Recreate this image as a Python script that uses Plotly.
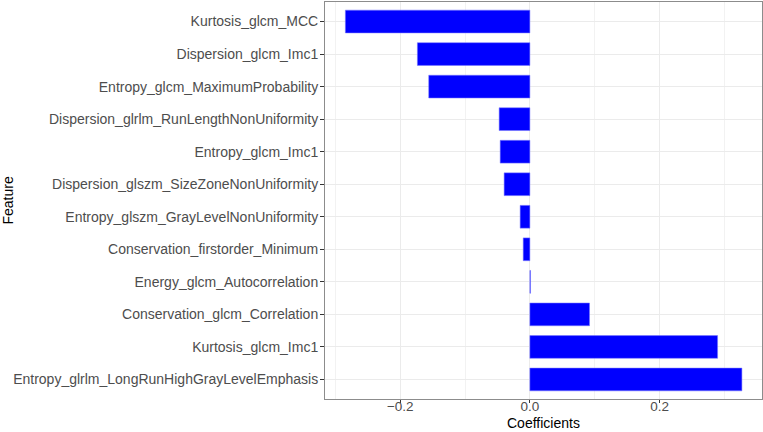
import plotly.graph_objects as go

features = [
    "Kurtosis_glcm_MCC",
    "Dispersion_glcm_Imc1",
    "Entropy_glcm_MaximumProbability",
    "Dispersion_glrlm_RunLengthNonUniformity",
    "Entropy_glcm_Imc1",
    "Dispersion_glszm_SizeZoneNonUniformity",
    "Entropy_glszm_GrayLevelNonUniformity",
    "Conservation_firstorder_Minimum",
    "Energy_glcm_Autocorrelation",
    "Conservation_glcm_Correlation",
    "Kurtosis_glcm_Imc1",
    "Entropy_glrlm_LongRunHighGrayLevelEmphasis",
]
coefficients = [
    -0.2846, -0.1735, -0.156, -0.0474, -0.0458, -0.0397,
    -0.015, -0.0103, 0.001, 0.092, 0.2895, 0.327,
]
x_ticks = [-0.2, 0.0, 0.2]
x_tick_labels = ["−0.2", "0.0", "0.2"]
x_minor = [-0.3, -0.1, 0.1, 0.3]

fig = go.Figure()
fig.add_trace(go.Bar(
    x=coefficients,
    y=features,
    orientation="h",
    width=0.7,
    marker=dict(color="#0000ff", line=dict(color="rgba(120,120,255,0.9)", width=0.6)),
))

font_family = "Liberation Sans, Arial, sans-serif"
fig.update_layout(
    width=763, height=432,
    margin=dict(l=325, r=1, t=2, b=33, autoexpand=False),
    plot_bgcolor="white", paper_bgcolor="white",
    showlegend=False,
    bargap=0.3,
    font=dict(family=font_family, color="#4d4d4d", size=14),
    annotations=[
        dict(text="Coefficients", xref="paper", yref="paper", x=0.5, y=0,
             yshift=-32.5, xanchor="center", yanchor="bottom", showarrow=False,
             borderpad=0, font=dict(size=14, color="black")),
        dict(text="Feature", xref="paper", yref="paper", x=0, y=0.5,
             xshift=-318, xanchor="center", yanchor="middle", showarrow=False,
             borderpad=0, textangle=-90, font=dict(size=14, color="black")),
    ],
)
fig.update_xaxes(
    range=[-0.316, 0.358],
    automargin=False,
    tickvals=x_ticks, ticktext=x_tick_labels,
    ticks="outside", ticklen=3, tickcolor="#333333", tickwidth=1,
    ticklabelstandoff=-8,
    tickfont=dict(size=13.5, color="#4d4d4d"),
    showgrid=True, gridcolor="#ebebeb", gridwidth=1,
    minor=dict(tickvals=x_minor, showgrid=True, gridcolor="#f2f2f2", gridwidth=0.6, ticks=""),
    zeroline=False,
    showline=True, linecolor="#8c8c8c", linewidth=1, mirror=True,
)
fig.update_yaxes(
    type="category",
    automargin=False,
    categoryorder="array", categoryarray=features[::-1],
    range=[-0.6, 11.6],
    ticks="outside", ticklen=4, tickcolor="#333333", tickwidth=1,
    ticklabelstandoff=-1,
    tickfont=dict(size=14, color="#4d4d4d"),
    showgrid=True, gridcolor="#ebebeb", gridwidth=1,
    zeroline=False,
    showline=True, linecolor="#8c8c8c", linewidth=1, mirror=True,
)

fig.write_html(
    "out.html",
    config={"displayModeBar": False},
    post_script="document.body.style.margin='0';document.body.style.overflow='hidden';",
)
